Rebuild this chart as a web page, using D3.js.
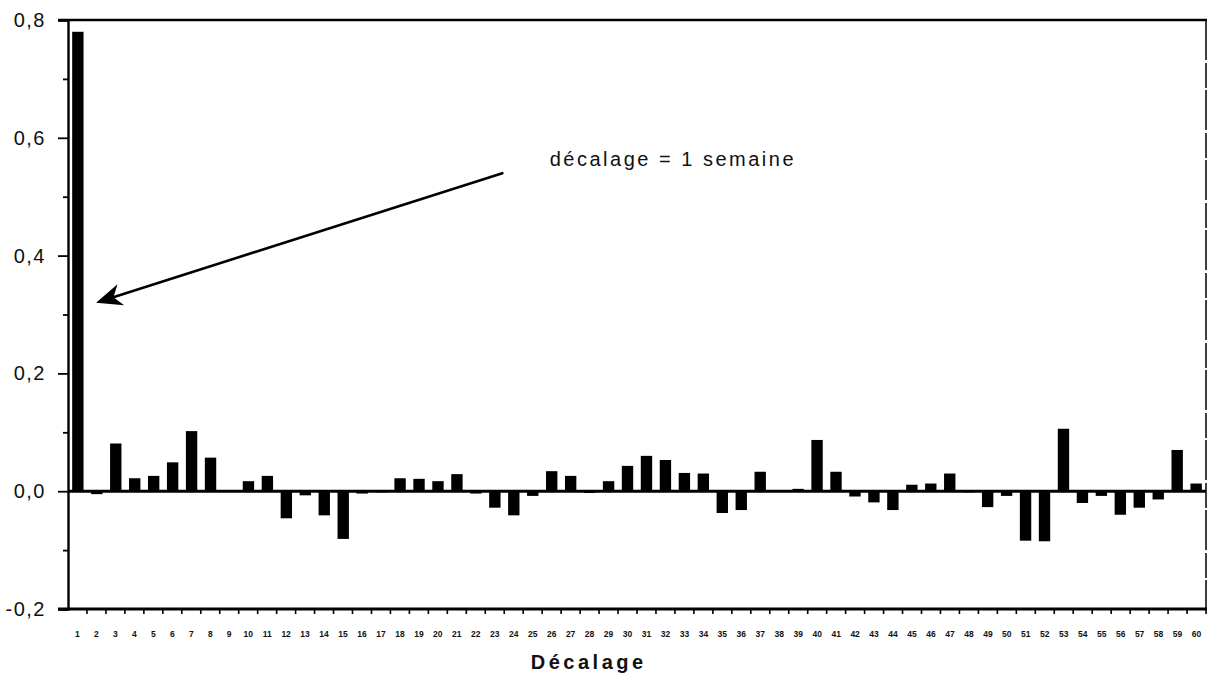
<!DOCTYPE html>
<html>
<head>
<meta charset="utf-8">
<script src="https://cdn.jsdelivr.net/npm/d3@7"></script>
<style>
  html, body { margin: 0; padding: 0; background: #fff; }
  svg { display: block; }
  text { font-family: "Liberation Sans", Arial, Helvetica, sans-serif; fill: #111; }
</style>
</head>
<body>
<svg id="chart" width="1216" height="680"></svg>
<script>
// ---- data ----
const lags = d3.range(1, 61);
const autocorr = [
  0.780, -0.005, 0.081, 0.022, 0.026, 0.049, 0.102, 0.057, 0.002, 0.017,
  0.026, -0.046, -0.007, -0.041, -0.081, -0.004, -0.002, 0.022, 0.021, 0.017,
  0.029, -0.004, -0.028, -0.041, -0.008, 0.034, 0.026, -0.003, 0.017, 0.043,
  0.060, 0.053, 0.031, 0.030, -0.037, -0.032, 0.033, 0.001, 0.004, 0.087,
  0.033, -0.009, -0.019, -0.032, 0.011, 0.013, 0.030, -0.002, -0.027, -0.008,
  -0.084, -0.085, 0.106, -0.020, -0.008, -0.040, -0.028, -0.014, 0.070, 0.013
];
const yTicks = [-0.2, 0, 0.2, 0.4, 0.6, 0.8];
const yMinorTicks = [-0.1, 0.1, 0.3, 0.5, 0.7];
const xTitle = "Décalage";
const annotationText = "décalage = 1 semaine";
// annotation anchor points in data units (lag, value)
const arrowFrom = [23.4, 0.54];
const arrowTo = [1.98, 0.32];
const textAt = [25.9, 0.552];

// ---- layout ----
const W = 1216, H = 680;
const margin = { left: 68, right: 10, top: 20, bottom: 71 };
const svg = d3.select("#chart");
const x0 = margin.left, x1 = W - margin.right;
const yTop = margin.top, yBot = H - margin.bottom;

const x = d3.scaleBand().domain(lags).range([x0, x1]).paddingInner(0.4).paddingOuter(0.22);
const xBand = d3.scaleBand().domain(lags).range([x0, x1]);
const xLin = d3.scaleLinear().domain([0.5, 60.5]).range([x0, x1]);
const y = d3.scaleLinear().domain([-0.2, 0.8]).range([yBot, yTop]);
const fmt = v => d3.format(".1f")(v).replace(".", ",").replace("−", "-");

// bars
svg.append("g").selectAll("rect")
  .data(lags.map((l, i) => ({ lag: l, v: autocorr[i] })))
  .join("rect")
  .attr("x", d => x(d.lag))
  .attr("width", x.bandwidth())
  .attr("y", d => y(Math.max(0, d.v)))
  .attr("height", d => Math.abs(y(d.v) - y(0)))
  .attr("fill", "#000");

// zero line
svg.append("line")
  .attr("x1", x0).attr("x2", x1)
  .attr("y1", y(0)).attr("y2", y(0))
  .attr("stroke", "#000").attr("stroke-width", 3);

// frame: top and right
svg.append("line").attr("x1", x0 - 10).attr("x2", x1 + 1).attr("y1", yTop).attr("y2", yTop)
  .attr("stroke", "#000").attr("stroke-width", 2.5);
svg.append("line").attr("x1", x1).attr("x2", x1).attr("y1", yTop).attr("y2", yBot)
  .attr("stroke", "#000").attr("stroke-width", 1.5).attr("stroke-dasharray", "40,3,25,2");

// left axis
const yAxis = d3.axisLeft(y).tickValues(yTicks).tickFormat(fmt).tickSize(10).tickPadding(12);
const gy = svg.append("g").attr("transform", `translate(${x0},0)`).call(yAxis);
gy.select(".domain").attr("stroke-width", 2.4);
gy.selectAll(".tick line").attr("stroke-width", 1.8);
gy.selectAll(".tick text").attr("font-size", 20).attr("letter-spacing", "1.5px").attr("fill", "#111")
  .attr("font-family", "'Liberation Sans', Arial, sans-serif");
const gyMinor = svg.append("g").attr("transform", `translate(${x0},0)`)
  .call(d3.axisLeft(y).tickValues(yMinorTicks).tickSize(5).tickFormat(""));
gyMinor.select(".domain").remove();
gyMinor.selectAll(".tick line").attr("stroke-width", 1.8);

// bottom axis
const xAxis = d3.axisBottom(xBand).tickSize(0).tickPadding(22);
const gx = svg.append("g").attr("transform", `translate(0,${yBot})`).call(xAxis);
gx.select(".domain").remove();
gx.selectAll(".tick text").attr("font-size", 8.5).attr("font-weight", "bold").attr("fill", "#222")
  .attr("font-family", "'Liberation Sans', Arial, sans-serif");
svg.append("line").attr("x1", x0 - 10).attr("x2", x1 + 1).attr("y1", yBot).attr("y2", yBot)
  .attr("stroke", "#000").attr("stroke-width", 2.8);
// bottom ticks at band boundaries
svg.append("g").selectAll("line")
  .data(lags.slice(1).concat([61]))
  .join("line")
  .attr("x1", d => xLin(d - 0.5)).attr("x2", d => xLin(d - 0.5))
  .attr("y1", yBot).attr("y2", yBot + 5)
  .attr("stroke", "#000").attr("stroke-width", 1.6);

// x title
svg.append("text")
  .attr("x", xLin(24.9)).attr("y", yBot + 60)
  .attr("font-size", 20).attr("font-weight", "bold")
  .attr("letter-spacing", "3.5px")
  .text(xTitle);

// annotation
const ax1 = xLin(arrowFrom[0]), ay1 = y(arrowFrom[1]);
const ax2 = xLin(arrowTo[0]), ay2 = y(arrowTo[1]);
const ang = Math.atan2(ay2 - ay1, ax2 - ax1);
const headLen = 26;
svg.append("line")
  .attr("x1", ax1).attr("y1", ay1)
  .attr("x2", ax2 - Math.cos(ang) * headLen * 0.6).attr("y2", ay2 - Math.sin(ang) * headLen * 0.6)
  .attr("stroke", "#000").attr("stroke-width", 2.6).attr("stroke-linecap", "round");
const headPts = [[0, 0], [-headLen, -11], [-headLen * 0.7, 0], [-headLen, 11]];
svg.append("path")
  .attr("d", d3.line()(headPts) + "Z")
  .attr("transform", `translate(${ax2},${ay2}) rotate(${ang * 180 / Math.PI})`)
  .attr("fill", "#000");

svg.append("text")
  .attr("x", xLin(textAt[0])).attr("y", y(textAt[1]))
  .attr("font-size", 20).attr("letter-spacing", "2.5px")
  .text(annotationText);
</script>
</body>
</html>
